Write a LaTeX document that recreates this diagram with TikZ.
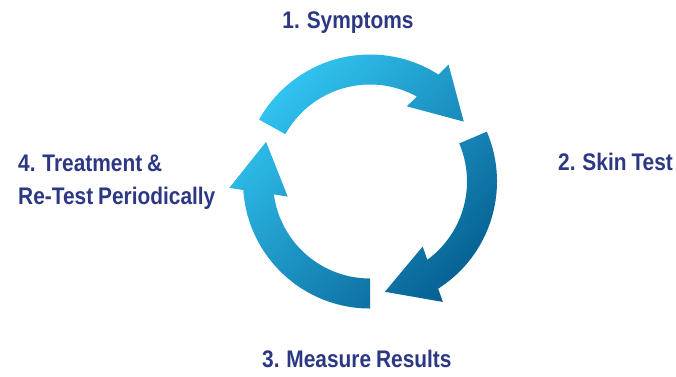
\documentclass[tikz,border=0pt]{standalone}
\usepackage{fontspec}
\setmainfont{Liberation Sans}[FakeStretch=0.87, WordSpace=0.85]
\definecolor{ringlight}{RGB}{50,197,242}
\definecolor{ringdark}{RGB}{6,96,146}
\definecolor{labelblue}{RGB}{44,56,132}
\tikzset{
  steplabel/.style={inner sep=0pt, font=\fontsize{24}{28}\selectfont\bfseries, text=labelblue},
}
% #1 = tail angle, #2 = shaft end angle (mid radius 112pt)
\newcommand{\cyclearrowpath}[2]{%
  (#1:127pt) arc[start angle=#1, end angle={#2-1.64}, radius=127pt]
  -- ({#2-2.91}:140.8pt) -- ({#2-26.41}:111.27pt) -- ({#2+4.89}:83.7pt)
  -- ({#2+2.13}:97pt) arc[start angle={#2+2.13}, end angle=#1, radius=97pt] -- cycle
}
\begin{document}
\begin{tikzpicture}
\useasboundingbox (0pt,0pt) rectangle (676pt,-376pt);
\fill[white] (0pt,0pt) rectangle (676pt,-376pt);
\coordinate (ctr) at (370pt,-181.5pt);
\begin{scope}[shift={(ctr)}]
  \shade[top color=ringlight, bottom color=ringdark, shading angle=45]
    \cyclearrowpath{150.8}{59}
    \cyclearrowpath{23.1}{-55.9}
    \cyclearrowpath{270}{185.5};
\end{scope}
\node[steplabel, anchor=base] (s1) at (348pt,-28pt) {1. Symptoms};
\node[steplabel, anchor=base west] (s2) at (558pt,-170pt) {2. Skin Test};
\node[steplabel, anchor=base west] (s3) at (262pt,-367pt) {3. Measure Results};
\node[steplabel, anchor=base west] (s4a) at (18pt,-171pt) {4. Treatment \&};
\node[steplabel, anchor=base west] (s4b) at (18pt,-204pt) {Re-Test Periodically};
\end{tikzpicture}
\end{document}
